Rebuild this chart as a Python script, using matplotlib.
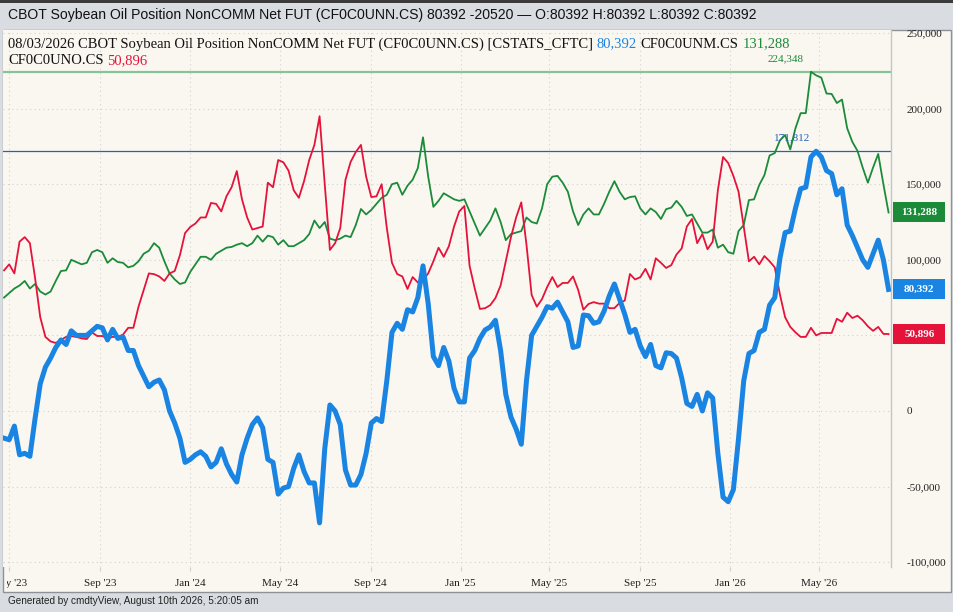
import matplotlib
matplotlib.use('Agg')
import matplotlib.pyplot as plt
import matplotlib.dates as mdates
import matplotlib.transforms as mtransforms
from matplotlib.patches import Rectangle
import numpy as np
import pandas as pd

W, H = 954, 612

# weekly CFTC report dates
weeks = pd.date_range(end='2026-08-03', periods=172, freq='7D')

# NonComm net position (thousands of contracts)
net_k = [
    -18, -19, -10, -29, -28, -30, -5, 18, 29, 35,
    42, 47, 44, 53, 50, 50, 50, 53, 56, 55,
    47, 54, 48, 49, 40, 40, 30, 23, 16, 19,
    20.5, 14, 0, -8, -18, -34, -32, -29, -27, -30,
    -37, -34, -25, -35, -42, -47, -29, -18, -9, -4.6,
    -11, -32, -34, -55, -51, -50, -38, -29, -40, -47.6,
    -47.6, -74, -25, 4, 0, -9, -39, -49, -49, -42,
    -28, -8, -5, -7, 20, 52, 58, 54, 67, 65.5,
    75, 96, 71, 36, 30, 42, 33, 15, 6, 6,
    35, 40, 48, 53.6, 55.6, 60, 40, 11, -4, -12,
    -22, 20, 50, 56, 62, 69, 68, 72, 65.5, 59,
    42, 43, 63.5, 63, 58, 59, 66, 76, 84, 74,
    64, 52, 54, 43, 36, 44, 30, 28.5, 38.5, 38,
    35, 22, 5, 3, 11, 0, 12, 8.6, -28, -57,
    -60, -52, -18, 20, 38, 40, 52, 54, 70, 75,
    101, 118, 119, 134, 147, 148, 168, 171.812, 168, 159,
    157, 143, 147, 123, 116, 108, 100, 95, 104, 113,
    100, 80.392,
]

# NonComm long (CF0C0UNM.CS)
long_k = [
    75, 78, 81, 83, 86, 81, 84, 79, 77, 79,
    86, 92.6, 93, 100, 98.5, 97, 98, 105, 106.5, 105,
    98, 101, 98.5, 98, 95, 96, 99, 104, 106, 111,
    108, 99, 91, 87, 84, 85, 92, 97, 102, 102,
    100, 104, 106, 108, 108.5, 110, 111, 109, 111, 116,
    112, 116, 115, 110, 113, 109, 109, 111, 113, 117,
    126, 121, 125, 114, 113, 114, 116, 115, 123, 133.6,
    130, 133, 137, 141, 143, 150, 151, 143, 149, 153,
    160.7, 181, 155, 135, 139, 144, 142, 140, 139, 140,
    132, 124, 116, 121, 126, 134, 125, 113, 117, 118,
    119, 128, 125, 124, 134, 150, 155, 155.5, 151, 145,
    132, 123, 130, 134, 130, 130, 137, 145, 152, 145,
    140, 141.5, 142, 134, 130, 134, 131.6, 127, 133.5, 134.5,
    139, 135, 129, 130, 124, 118, 118, 120, 108, 110,
    105, 104, 119, 123, 139.5, 140, 149.5, 156, 169, 170.6,
    179, 182.5, 173, 187, 197, 197, 224.348, 222, 220.5, 210,
    209.7, 203.7, 206, 187, 178, 172, 161, 151, 161, 170,
    150, 131.288,
]

# NonComm short (CF0C0UNO.CS)
short_k = [
    93, 97, 91, 112, 115, 111, 88, 62, 49, 46,
    45, 47, 49, 49.5, 49, 48, 47.6, 52, 49.6, 49.6,
    48, 49, 49, 50.5, 55, 55, 69, 80, 91, 90.5,
    89, 86, 91, 92.6, 103, 117.7, 121.7, 124, 128, 128,
    137.6, 137, 132, 142, 148, 158.7, 140, 128, 120, 121,
    122, 151, 148, 166, 164.5, 159, 146, 141, 152, 166,
    176, 195, 150, 106.5, 111, 121, 152.8, 164.7, 171.3, 176,
    155, 141.5, 142, 150, 121, 98, 90.6, 89, 80.7, 88.6,
    85, 86.6, 91, 99, 108, 102, 109, 122, 132, 135.6,
    96, 81, 67.5, 68, 70, 74.7, 83, 99, 115, 128,
    138, 110, 76.7, 69, 74, 82, 88.6, 82, 84.7, 84.7,
    89, 80, 67, 70.8, 72, 71, 71, 68, 68, 71.5,
    73, 90.6, 87, 88.5, 94, 87, 101, 98, 94.6, 96.5,
    103.5, 107.5, 122, 127, 111, 117, 107, 112, 146, 168,
    164, 155.5, 145, 122, 99, 102, 97, 102.5, 99, 95,
    77, 62, 55.6, 52, 49, 49, 55, 50, 51.6, 51.6,
    51.6, 61, 59, 65, 61.5, 63, 60, 56, 53, 55.6,
    51, 50.896,
]

net = np.array(net_k) * 1000
longs = np.array(long_k) * 1000
shorts = np.array(short_k) * 1000

BLUE = '#1a84e3'
GREEN = '#1b8b39'
RED = '#e5123a'
CREAM = '#faf7f1'
SERIF = 'Liberation Serif'
SANS = 'Liberation Sans'

fig = plt.figure(figsize=(W / 100, H / 100), dpi=100)
fig.patch.set_facecolor('#d9dde1')

# dark strip on top and the cream chart panel
fig.add_artist(Rectangle((0, 1 - 3 / H), 1, 3 / H, transform=fig.transFigure,
                         fc='#3b3b3b', ec='none'))
panel = Rectangle((3 / W, 1 - 592 / H), 948 / W, 562 / H, transform=fig.transFigure,
                  fc=CREAM, ec='#8e9296', lw=1.0, zorder=0)
fig.add_artist(panel)

fig.text(8 / W, 1 - 15 / H,
         'CBOT Soybean Oil Position NonCOMM Net FUT (CF0C0UNN.CS) 80392 -20520 — '
         'O:80392 H:80392 L:80392 C:80392',
         family=SANS, fontsize=10.1, color='#111111', va='center', ha='left')
fig.text(8 / W, 1 - 601 / H, 'Generated by cmdtyView, August 10th 2026, 5:20:05 am',
         family=SANS, fontsize=7.2, color='#222222', va='center', ha='left')

ax = fig.add_axes([3 / W, 1 - 567 / H, 888 / W, 537 / H])
ax.set_facecolor(CREAM)

x0 = mdates.date2num(weeks[0]) - 1.4
x1 = mdates.date2num(weeks[-1]) + 3.3
ax.set_xlim(x0, x1)
ax.set_ylim(-103200, 252000)

ax.axhline(longs.max(), color='#86c496', lw=1.6, zorder=1)
ax.axhline(net.max(), color='#2462b8', lw=0.9, zorder=1)

ax.plot(weeks, longs, color=GREEN, lw=1.3, zorder=3)
ax.plot(weeks, shorts, color=RED, lw=1.3, zorder=3)
ax.plot(weeks, net, color=BLUE, lw=3.6, zorder=4, solid_joinstyle='round')

# peak labels
i_l = int(np.argmax(longs))
i_n = int(np.argmax(net))
ax.annotate(f'{longs[i_l]:,.0f}', xy=(weeks[i_l], longs[i_l]), xytext=(-25, 13),
            textcoords='offset pixels', ha='center', va='center',
            family=SERIF, fontsize=8, color=GREEN)
ax.annotate(f'{net[i_n]:,.0f}', xy=(weeks[i_n], net[i_n]), xytext=(-24, 13),
            textcoords='offset pixels', ha='center', va='center',
            family=SERIF, fontsize=8, color='#2462b8')

# axes styling
for s in ['bottom', 'top', 'left']:
    ax.spines[s].set_visible(False)
ax.spines['right'].set_color('#c4c4c4')
ax.spines['right'].set_linewidth(1.0)

ax.yaxis.tick_right()
yt = list(range(-100000, 250001, 50000))
ax.set_yticks(yt)
# the 50,000 label sits under the short-position tag in the original
ax.set_yticklabels(['' if v == 50000 else f'{v:,}' for v in yt])
ax.tick_params(axis='y', length=0, pad=11, labelsize=8, labelcolor='#222222')
for t in ax.get_yticklabels():
    t.set_family(SERIF)

ax.xaxis.set_major_locator(mdates.MonthLocator(bymonth=[1, 5, 9]))
ax.xaxis.set_major_formatter(mdates.DateFormatter("%b '%y"))
ax.tick_params(axis='x', length=3, color='#d0d0d0', pad=6, labelsize=8,
               labelcolor='#222222')
for t in ax.get_xticklabels():
    t.set_family(SERIF)

ax.grid(True, which='major', color='#d2d2d2', lw=0.8, ls=(0, (1, 3)))
ax.set_axisbelow(True)

# clip tick labels to the panel like the original
fig.canvas.draw()
pbox = panel.get_window_extent()
clip_box = mtransforms.Bbox.from_extents(pbox.x0 + 4, pbox.y0, pbox.x1, pbox.y1)
for t in ax.get_xticklabels() + ax.get_yticklabels():
    t.set_clip_box(clip_box)
    t.set_clip_on(True)

# last-value tags on the right
tr = mtransforms.blended_transform_factory(ax.transAxes, ax.transData)
box_h = 20 / 537 * (252000 + 103200)
for val, col in [(longs[-1], GREEN), (net[-1], BLUE), (shorts[-1], RED)]:
    ax.add_patch(Rectangle((1.0025, val - box_h / 2), 52 / 888, box_h, transform=tr,
                           fc=col, ec='none', clip_on=False, zorder=5))
    ax.text(1.0025 + 26 / 888, val, f'{val:,.0f}', transform=tr, ha='center',
            va='center', family=SERIF, fontsize=8, fontweight='bold', color='white',
            clip_on=False, zorder=6)

# legend lines (multi-coloured text pieces)
renderer = fig.canvas.get_renderer()


def put_row(x_px, y_px, pieces, size=10.5):
    x = x_px
    for s, c in pieces:
        t = fig.text(x / W, 1 - y_px / H, s, color=c, fontsize=size, family=SERIF,
                     va='center', ha='left', zorder=10)
        x += t.get_window_extent(renderer=renderer).width + 3.7


put_row(8, 44, [('08/03/2026 CBOT Soybean Oil Position NonCOMM Net FUT (CF0C0UNN.CS) [CSTATS_CFTC]', '#111111'),
                (f'{net[-1]:,.0f}', BLUE),
                ('CF0C0UNM.CS', '#111111'),
                (f'{longs[-1]:,.0f}', GREEN)])
put_row(8, 61, [('CF0C0UNO.CS', '#111111'),
                (f'{shorts[-1]:,.0f}', RED)])

fig.savefig('out.png', dpi=100, facecolor=fig.get_facecolor())
